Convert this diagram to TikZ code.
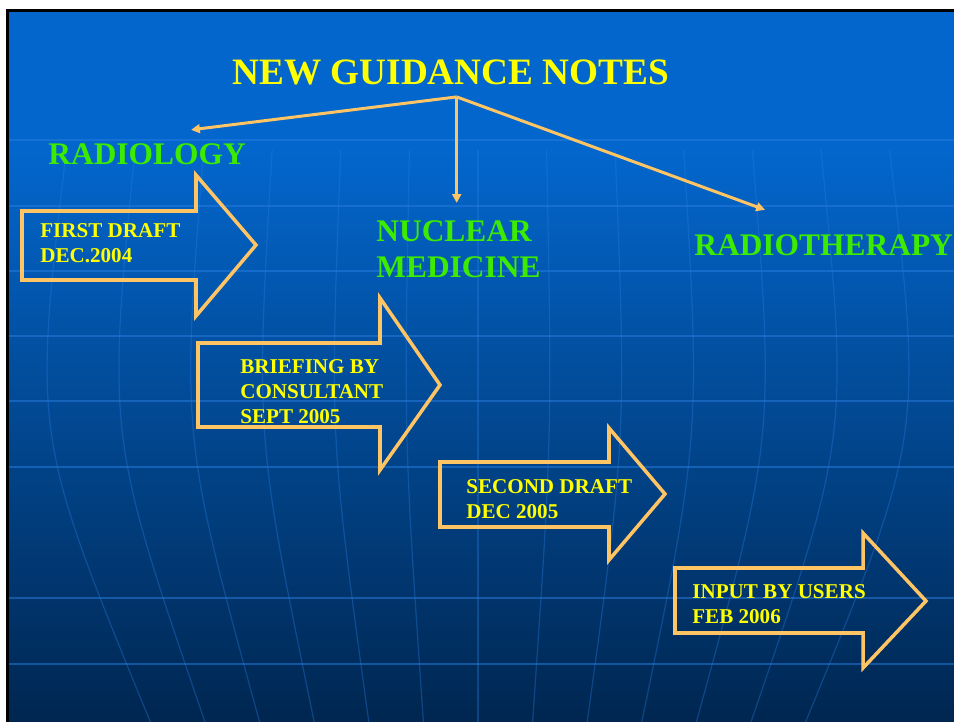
\documentclass[tikz,border=0pt]{standalone}
\usepackage{fontspec}
\setmainfont{Liberation Serif}
\definecolor{cielo}{RGB}{3,102,204}
\definecolor{noche}{RGB}{0,38,80}
\definecolor{reja}{RGB}{40,125,225}
\definecolor{limon}{RGB}{255,255,0}
\definecolor{lima}{RGB}{60,235,0}
\definecolor{melon}{RGB}{255,196,100}
\usepackage{tikz}
\usetikzlibrary{arrows.meta,calc}
\pgfdeclareverticalshading{fondo}{100bp}{color(0bp)=(noche); color(25bp)=(noche);
  color(65bp)=(cielo); color(100bp)=(cielo)}

\begin{document}
\begin{tikzpicture}[x=0.02cm,y=-0.02cm,
    rama/.style={-{Triangle[length=5pt,width=5pt]},melon,line width=1.7pt},
    bloque/.style={melon,line width=2pt,line join=miter},
    rotulo/.style={font=\fontsize{17.9}{21}\selectfont\bfseries,text=lima,
      inner sep=0,anchor=base west,align=left},
    texto/.style={font=\fontsize{12}{14.5}\selectfont\bfseries,text=limon,
      inner sep=0,anchor=base west,align=left}]
      \useasboundingbox (0,0) rectangle (954,722);
      \fill[white] (0,0) rectangle (954,722);
      \shade[shading=fondo] (7,10) rectangle (954,722);
      \foreach \y in {140,206,271,336,401,467,598,664}
        \draw[reja,opacity=.5,line width=.8pt] (9,\y) -- (954,\y);
      \foreach \k in {-6,...,6}
        \draw[reja,opacity=.35,line width=.7pt] ({478+68.6*\k},150)
          .. controls ({478+74.2*\k},436) .. ({478+54.6*\k},722);
      \draw[black,line width=1.7pt] (7.5,722) |- (954,10.5);

      \node[font=\fontsize{21.2}{25}\selectfont\bfseries,text=limon,
            anchor=base west,inner sep=0] (titulo) at (232,85) {NEW GUIDANCE NOTES};
      \node[rotulo] (radiologia) at (48,165) {RADIOLOGY};
      \node[rotulo] (nuclear) at (376,278) {NUCLEAR\\MEDICINE};
      \node[rotulo] (radioterapia) at (694,256) {RADIOTHERAPY};

      \coordinate (cruce) at ([shift={(6,11)}]titulo.south);
      \coordinate (bajada) at ([shift={(0,-17)}]nuclear.north);
      \draw[rama] (cruce) -- ([shift={(44,-14)}]radiologia.north);
      \draw[rama] (cruce) -- (cruce |- bajada);
      \draw[rama] (cruce) -- ([shift={(71,-25)}]radioterapia.north west);

      \draw[bloque] (22,211) -- (196,211) -- (196,175) -- (256,245)
        -- (196,316) -- (196,280) -- (22,280) -- cycle;
      \draw[bloque] (198,343) -- (380,343) -- (380,298) -- (440,385)
        -- (380,470) -- (380,427) -- (198,427) -- cycle;
      \draw[bloque] (440,462) -- (609,462) -- (609,428) -- (665,494)
        -- (609,560) -- (609,527) -- (440,527) -- cycle;
      \draw[bloque] (675,568) -- (863,568) -- (863,533) -- (926,601)
        -- (863,668) -- (863,633) -- (675,633) -- cycle;

      \node[texto] (borrador) at (40,263) {FIRST DRAFT\\DEC.2004};
      \node[texto] (consulta) at (240,424) {BRIEFING BY\\CONSULTANT\\SEPT 2005};
      \node[texto] (segundo) at (466,519) {SECOND DRAFT\\DEC 2005};
      \node[texto] (usuarios) at (692,624) {INPUT BY USERS\\FEB 2006};
    \end{tikzpicture}
\end{document}
